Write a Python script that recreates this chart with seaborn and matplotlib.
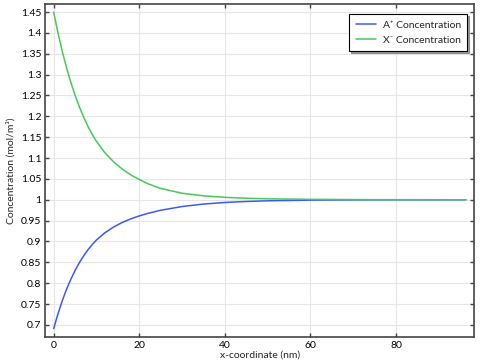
import seaborn as sns
import matplotlib.pyplot as plt
import pandas as pd
import numpy as np

# values
a_x = [0, 1, 2, 3, 4, 5, 6, 7, 8, 9, 10, 12, 14, 16, 18, 20, 22, 25, 30, 35, 40, 45, 50, 60, 70, 80, 96.3]
a_y = [0.691, 0.7265, 0.7577, 0.7851, 0.8092, 0.8304, 0.8491, 0.8655, 0.8799, 0.8925, 0.9036,
       0.9211, 0.9347, 0.9455, 0.9542, 0.9613, 0.9673, 0.9748, 0.9838, 0.9897, 0.9935, 0.9959,
       0.9975, 0.9991, 0.9997, 0.9999, 1.0]
x_x = [0, 1, 2, 3, 4, 5, 6, 7, 8, 9, 10, 12, 14, 16, 18, 20, 22, 25, 30, 35, 40, 45, 50, 60, 70, 80, 96.3]
x_y = [1.45, 1.4003, 1.3561, 1.3168, 1.2818, 1.2507, 1.2228, 1.198, 1.1761, 1.1568, 1.1399,
       1.1121, 1.0909, 1.0737, 1.0597, 1.0484, 1.0385, 1.0271, 1.0156, 1.0095, 1.0058, 1.0037,
       1.0023, 1.001, 1.0004, 1.0002, 1.0]

labels = ["A\u207a Concentration", "X\u207b Concentration"]
colors = ["#3a5af7", "#48c85a"]

df = pd.concat([
    pd.DataFrame({"x": a_x, "c": a_y, "species": labels[0]}),
    pd.DataFrame({"x": x_x, "c": x_y, "species": labels[1]}),
])

sns.set_theme(style="whitegrid")
plt.rcParams["font.family"] = ["Lato", "DejaVu Sans"]

fig = plt.figure(figsize=(4.83, 3.63), dpi=100)
ax = fig.add_axes([0.094, 0.0716, 0.8874, 0.9165])

sns.lineplot(data=df, x="x", y="c", hue="species", palette=colors, sort=False,
             linewidth=1.1, ax=ax)

ax.set_xlim(-1.93, 98.2)
ax.set_ylim(0.671, 1.4685)
ax.set_xticks([0, 20, 40, 60, 80])
yt = np.round(np.arange(0.7, 1.4501, 0.05), 2)
ax.set_yticks(yt)
ax.set_yticklabels([f"{v:g}" for v in yt])

ax.set_facecolor("white")
ax.grid(True, color="#e6e6e6", linewidth=0.8)
for s in ax.spines.values():
    s.set_color("#444444")
    s.set_linewidth(1.2)
ax.tick_params(direction="in", length=3, width=1, colors="#444444",
               labelcolor="black", labelsize=7.5, top=True, right=True,
               left=True, bottom=True, pad=3)

ax.set_xlabel("x-coordinate (nm)", fontsize=7.5, labelpad=0)
ax.set_ylabel("Concentration (mol/m\u00b3)", fontsize=7.5, labelpad=4)

leg = ax.legend(loc="upper right", bbox_to_anchor=(0.9837, 0.971), borderaxespad=0,
                fontsize=7.5, frameon=True, fancybox=False,
                shadow={"ox": 1.2, "oy": -1.2, "color": "0.45", "alpha": 0.7},
                handlelength=2.0, handletextpad=0.6, borderpad=0.6, labelspacing=0.6,
                title=None)
leg.get_frame().set_edgecolor("black")
leg.get_frame().set_linewidth(0.8)

fig.savefig("out.png", dpi=100)
